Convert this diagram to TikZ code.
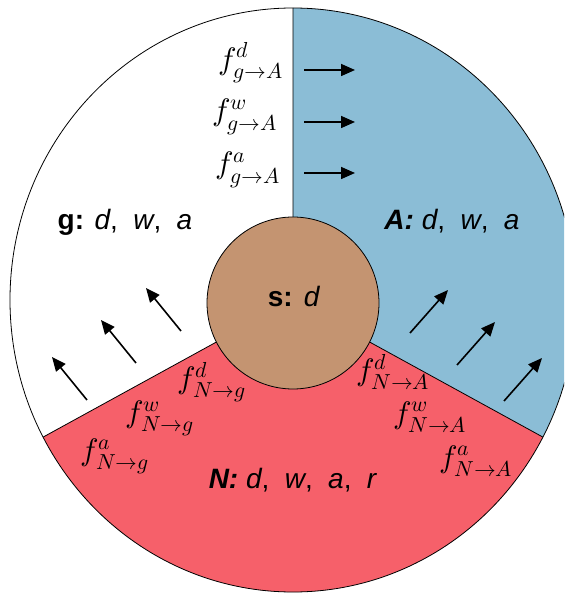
\documentclass[tikz,border=0pt]{standalone}
\usepackage{fontspec}
\usepackage{unicode-math}
\setmainfont{Liberation Sans}
\usetikzlibrary{arrows.meta}
\definecolor{regA}{HTML}{8BBDD6}
\definecolor{regN}{HTML}{F6606A}
\definecolor{regS}{HTML}{C49471}
\newcommand{\wgap}{\hspace{.55em}}

\begin{document}
\begin{tikzpicture}[x=1pt,y=1pt,>={Triangle[length=14pt,width=12pt]},
lbl/.style={font=\fontsize{28}{32}\selectfont,anchor=base,inner sep=0pt},
fl/.style={font=\fontsize{31}{34}\selectfont,inner sep=0pt},
flux/.style={->,line width=1.6pt},
rim/.style={draw,line width=.8pt}]
\clip (-293,-296) rectangle (271,300);
% regions
\fill[regA] (0,0) -- (90:283 and 292) arc[start angle=90,end angle=-28,x radius=283,y radius=292] -- cycle;
\fill[regN] (0,0) -- (-28:283 and 292) arc[start angle=-28,end angle=-152,x radius=283,y radius=292] -- cycle;
\draw[rim] (0,0) -- (90:283 and 292) (0,0) -- (-28:283 and 292) (0,0) -- (208:283 and 292);
\draw[rim] (0,0) ellipse[x radius=283,y radius=292];
\node[circle,rim,fill=regS,minimum size=172pt,inner sep=0pt] (s) at (0,-3) {};
% labels
\node[lbl] (gl) at (-168,70) {\textbf{g:} \textit{d},\wgap\textit{w},\wgap\textit{a}};
\node[lbl] (Al) at (159,70) {\textbf{\textit{A:}} \textit{d},\wgap\textit{w},\wgap\textit{a}};
\node[lbl] (Nl) at (0,-188) {\textbf{\textit{N:}} \textit{d},\wgap\textit{w},\wgap\textit{a},\wgap\textit{r}};
\node[lbl] (sl) at (1,-7) {\textbf{s:}\hspace{.4em}\textit{d}};
% fluxes
\node[fl] (fgAd) at (-42,237) {$f^{d}_{g\to A}$};
\node[fl] (fgAw) at (-48,183) {$f^{w}_{g\to A}$};
\node[fl] (fgAa) at (-45,130) {$f^{a}_{g\to A}$};
\node[fl] (fNgd) at (-81,-82) {$f^{d}_{N\to g}$};
\node[fl] (fNgw) at (-133,-118) {$f^{w}_{N\to g}$};
\node[fl] (fNga) at (-178,-156) {$f^{a}_{N\to g}$};
\node[fl] (fNAd) at (100,-72) {$f^{d}_{N\to A}$};
\node[fl] (fNAw) at (137,-117) {$f^{w}_{N\to A}$};
\node[fl] (fNAa) at (183,-161) {$f^{a}_{N\to A}$};
\foreach \y in {230,178,127} \draw[flux] (11,\y) -- ++(51,0);
\foreach \x/\y in {-112/-31,-157/-63,-206/-100} \draw[flux] (\x,\y) -- ++(-35,43);
\foreach \x/\y in {117/-33,164/-65,211/-101} \draw[flux] (\x,\y) -- ++(38,43);
\end{tikzpicture}
\end{document}
